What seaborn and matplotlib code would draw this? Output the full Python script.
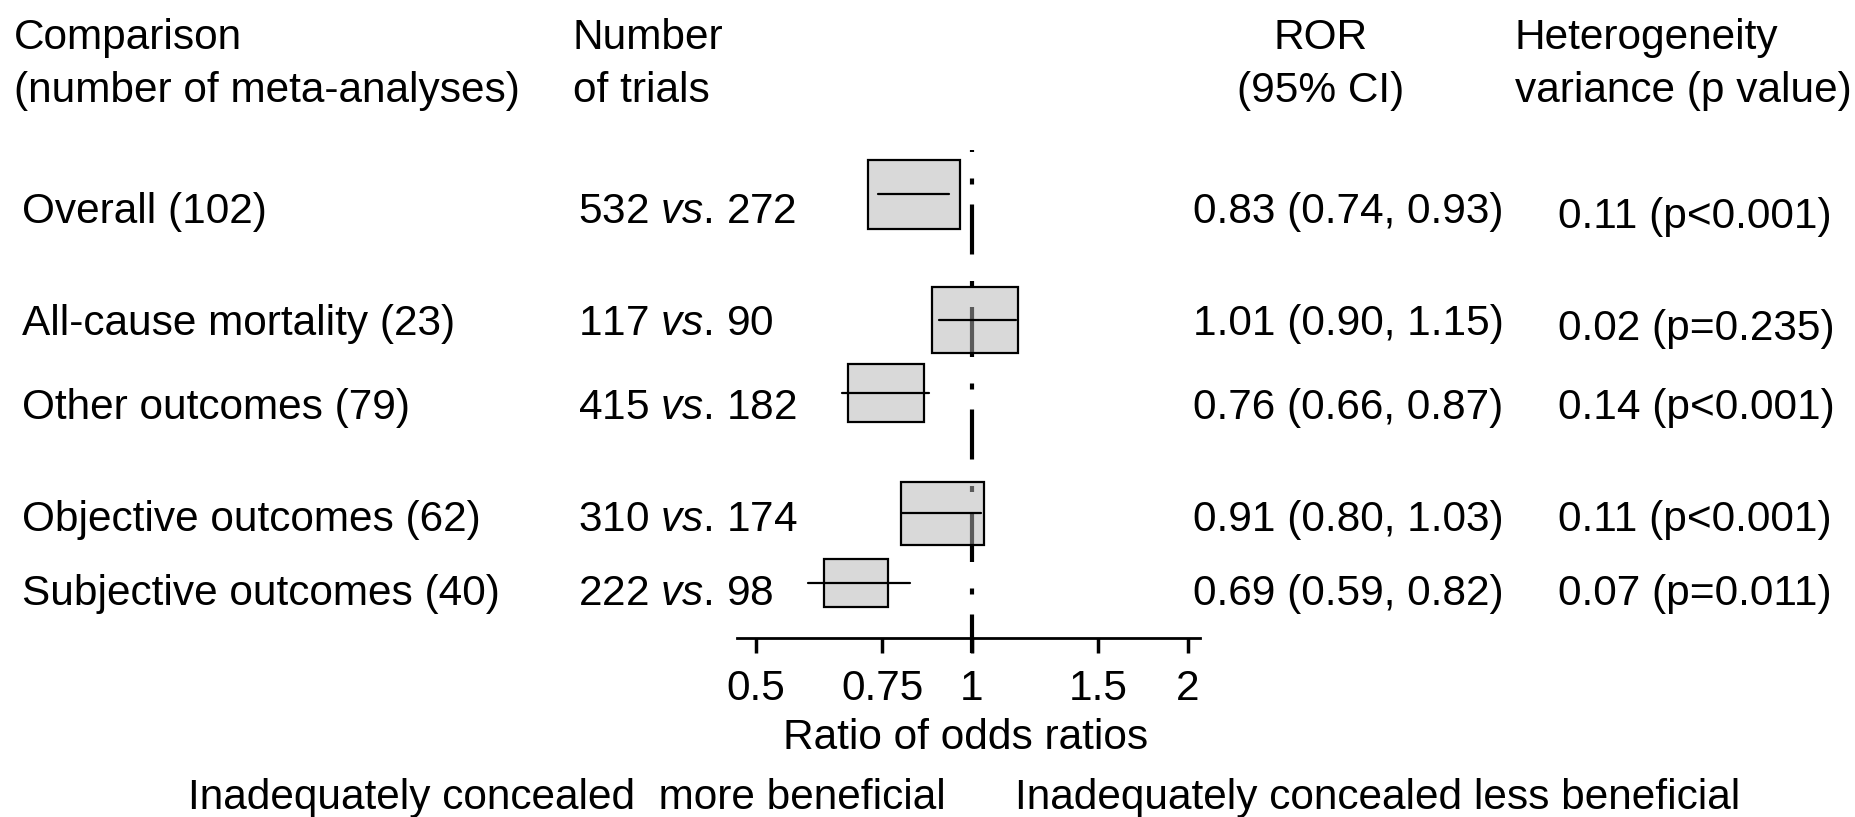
import numpy as np
import pandas as pd
import matplotlib
matplotlib.use("Agg")
import matplotlib.pyplot as plt
from matplotlib.patches import Rectangle
import seaborn as sns

# ==============================
# Data
# ==============================
labels = ["Overall (102)", "All-cause mortality (23)", "Other outcomes (79)",
          "Objective outcomes (62)", "Subjective outcomes (40)"]
n_inadequate = [532, 117, 415, 310, 222]
n_adequate = [272, 90, 182, 174, 98]
ror = [0.83, 1.01, 0.76, 0.91, 0.69]
ci_low = [0.74, 0.90, 0.66, 0.80, 0.59]
ci_high = [0.93, 1.15, 0.87, 1.03, 0.82]
het_var = [0.11, 0.02, 0.14, 0.11, 0.07]
het_p = ["p<0.001", "p=0.235", "p<0.001", "p<0.001", "p=0.011"]
tick_values = [0.5, 0.75, 1, 1.5, 2]
tick_labels = ["0.5", "0.75", "1", "1.5", "2"]

# ==============================
# Layout (pixels from top-left of a 1856x817 canvas)
# ==============================
W, H = 1856, 817
box_y = [194.5, 320, 393, 513.5, 583]        # row centre of each box
text_base = [223, 335, 419, 531, 605]        # baseline of the row texts
het_base = [228, 340, 419, 531, 605]
FS = 30.5


def fx(x):
    return x / W


def fy(y):
    return 1 - y / H


sns.set_theme(style="white")
plt.rcParams["font.family"] = ["Liberation Sans", "DejaVu Sans"]
plt.rcParams["mathtext.fontset"] = "custom"
plt.rcParams["mathtext.rm"] = "Liberation Sans"
plt.rcParams["mathtext.it"] = "Liberation Sans:italic"

fig = plt.figure(figsize=(W / 100, H / 100), dpi=100)
fig.patch.set_facecolor("white")

# forest axes: bottom spine sits at y=638 px, top of area at 140 px
ax = fig.add_axes([fx(737), fy(638), (1200 - 737) / W, (638 - 140) / H])
ax.set_xscale("log")
ax.set_facecolor("none")

# CI segments
seg = pd.DataFrame({
    "x": ci_low + ci_high,
    "y": box_y + box_y,
    "row": list(range(len(ror))) * 2,
})
sns.lineplot(data=seg, x="x", y="y", units="row", estimator=None, sort=False,
             color="black", linewidth=1.6, legend=False, ax=ax, zorder=4)

# boxes: width grows with precision (1 / width of the log CI), fixed aspect
px_per_ln = 311.7
for est, lo, hi, yc in zip(ror, ci_low, ci_high, box_y):
    w = 0.0674 / np.log(hi / lo)
    h = 0.76 * w * px_per_ln
    x0, x1 = est * np.exp(-w / 2), est * np.exp(w / 2)
    ax.add_patch(Rectangle((x0, yc - h / 2), x1 - x0, h,
                           facecolor=(0.706, 0.706, 0.706, 0.5),
                           edgecolor="black", linewidth=1.6, zorder=3))

# null line, dash-dot
ax.plot([1, 1], [150, 653], color="black", linewidth=3, clip_on=False,
        linestyle=(11.52, (12, 6.36, 1.44, 4.8)), zorder=2,
        solid_capstyle="butt", dash_capstyle="butt")

ax.set_xlim(0.4705, 2.078)
ax.set_ylim(638, 140)
ax.set(xlabel="", ylabel="")
ax.set_yticks([])
ax.minorticks_off()
ax.set_xticks(tick_values)
ax.set_xticklabels(tick_labels)
ax.tick_params(axis="x", bottom=True, direction="out", length=11, width=2.5,
               pad=11, labelsize=FS, colors="black")
for side in ["left", "right", "top"]:
    ax.spines[side].set_visible(False)
ax.spines["bottom"].set_linewidth(2)
ax.spines["bottom"].set_color("black")

# ==============================
# Text columns
# ==============================
kw = dict(fontsize=FS, color="black", va="baseline")
fig.text(fx(14), fy(49), "Comparison", **kw)
fig.text(fx(14), fy(102), "(number of meta-analyses)", **kw)
fig.text(fx(573), fy(49), "Number", **kw)
fig.text(fx(573), fy(102), "of trials", **kw)
fig.text(fx(1321), fy(49), "ROR", ha="center", **kw)
fig.text(fx(1321), fy(102), "(95% CI)", ha="center", **kw)
fig.text(fx(1515), fy(49), "Heterogeneity", **kw)
fig.text(fx(1515), fy(102), "variance (p value)", **kw)

for i in range(len(labels)):
    fig.text(fx(22), fy(text_base[i]), labels[i], **kw)
    fig.text(fx(578), fy(text_base[i]),
             f"{n_inadequate[i]} $\\mathit{{vs}}$. {n_adequate[i]}", **kw)
    fig.text(fx(1193), fy(text_base[i]),
             f"{ror[i]:.2f} ({ci_low[i]:.2f}, {ci_high[i]:.2f})", **kw)
    fig.text(fx(1558), fy(het_base[i]), f"{het_var[i]:.2f} ({het_p[i]})", **kw)

fig.text(fx(966), fy(749), "Ratio of odds ratios", ha="center", **kw)
fig.text(fx(188), fy(809), "Inadequately concealed  more beneficial", **kw)
fig.text(fx(1015), fy(809), "Inadequately concealed less beneficial", **kw)

fig.savefig("out.png", dpi=100, facecolor="white")
